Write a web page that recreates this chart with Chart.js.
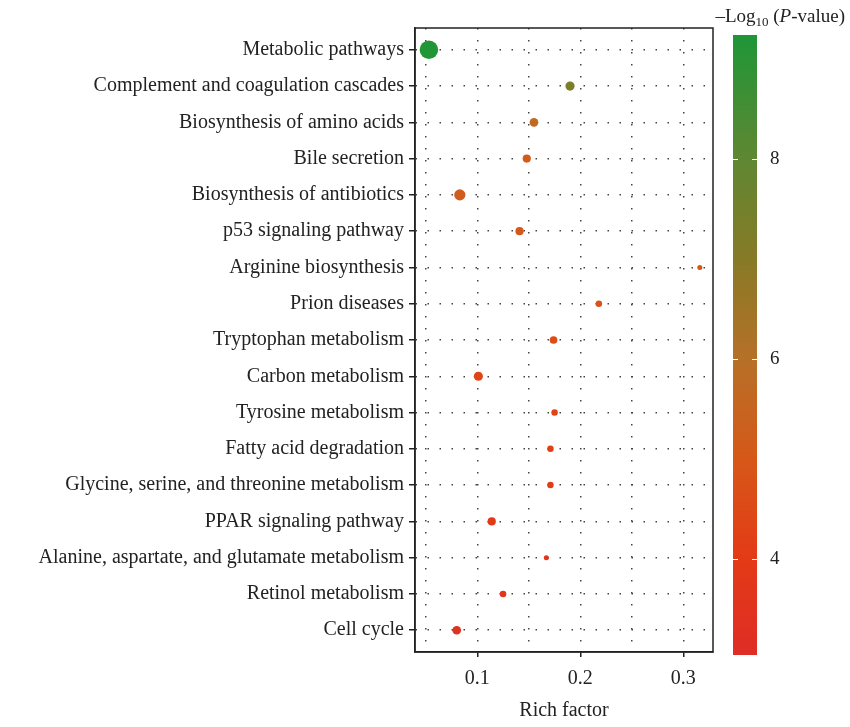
<!DOCTYPE html>
<html><head><meta charset="utf-8">
<script src="https://cdn.jsdelivr.net/npm/chart.js@4.4.0/dist/chart.umd.min.js"></script>
<style>html,body{margin:0;padding:0;background:#fff;}</style>
</head><body>
<canvas id="c" width="850" height="727"></canvas>
<script>
const categories = [
  "Metabolic pathways",
  "Complement and coagulation cascades",
  "Biosynthesis of amino acids",
  "Bile secretion",
  "Biosynthesis of antibiotics",
  "p53 signaling pathway",
  "Arginine biosynthesis",
  "Prion diseases",
  "Tryptophan metabolism",
  "Carbon metabolism",
  "Tyrosine metabolism",
  "Fatty acid degradation",
  "Glycine, serine, and threonine metabolism",
  "PPAR signaling pathway",
  "Alanine, aspartate, and glutamate metabolism",
  "Retinol metabolism",
  "Cell cycle"
];
const richFactor = [0.053, 0.190, 0.155, 0.148, 0.083, 0.141, 0.316, 0.218, 0.174, 0.101, 0.175, 0.171, 0.171, 0.114, 0.167, 0.125, 0.080];
const negLog10P  = [9.2, 7.3, 5.7, 5.1, 5.2, 5.0, 4.9, 4.8, 4.6, 4.4, 4.3, 4.2, 4.1, 3.9, 3.7, 3.6, 3.4];
const geneCount  = [41, 10, 9, 8, 15, 8, 3, 5, 7, 10, 5, 5, 5, 8, 3, 5, 9];
const xTicks = [0.05, 0.1, 0.15, 0.2, 0.25, 0.3];
const xLabelTicks = [0.1, 0.2, 0.3];
const colorTicks = [4, 6, 8];
const colorRange = [3.04, 9.24];

const FONT = "'Liberation Serif', 'Times New Roman', serif";
const stops = [
  [3.04, [222, 45, 38]],
  [4.0,  [228, 58, 22]],
  [5.0,  [214, 88, 24]],
  [6.0,  [182, 112, 40]],
  [7.0,  [135, 122, 38]],
  [8.0,  [95, 135, 50]],
  [9.24, [30, 150, 55]]
];
function colorFor(v) {
  if (v <= stops[0][0]) return 'rgb(' + stops[0][1].join(',') + ')';
  for (let i = 1; i < stops.length; i++) {
    if (v <= stops[i][0]) {
      const t = (v - stops[i-1][0]) / (stops[i][0] - stops[i-1][0]);
      const a = stops[i-1][1], b = stops[i][1];
      return 'rgb(' + a.map((c, k) => Math.round(c + (b[k] - c) * t)).join(',') + ')';
    }
  }
  return 'rgb(' + stops[stops.length-1][1].join(',') + ')';
}
function radiusFor(n) { return 1.45 * Math.sqrt(n); }

const frame = {
  id: 'frame',
  afterDraw(chart) {
    const {ctx, chartArea: a} = chart;
    ctx.save();
    ctx.setLineDash([]);
    ctx.strokeStyle = '#222';
    ctx.lineWidth = 1.5;
    ctx.strokeRect(a.left, a.top, a.right - a.left, a.bottom - a.top);
    ctx.restore();
  }
};

const colorbar = {
  id: 'colorbar',
  afterDraw(chart) {
    const ctx = chart.ctx;
    const x0 = 733, w = 24, top = 35, bottom = 655;
    const span = colorRange[1] - colorRange[0];
    const g = ctx.createLinearGradient(0, bottom, 0, top);
    stops.forEach(s => g.addColorStop((s[0] - colorRange[0]) / span, 'rgb(' + s[1].join(',') + ')'));
    ctx.save();
    ctx.setLineDash([]);
    ctx.fillStyle = g;
    ctx.fillRect(x0, top, w, bottom - top);
    const yFor = v => bottom - (v - colorRange[0]) / span * (bottom - top);
    ctx.strokeStyle = '#fff';
    ctx.lineWidth = 1;
    ctx.fillStyle = '#222';
    ctx.font = '19px ' + FONT;
    ctx.textBaseline = 'middle';
    ctx.textAlign = 'left';
    colorTicks.forEach(v => {
      const y = Math.round(yFor(v)) + 0.5;
      ctx.beginPath();
      ctx.moveTo(x0, y); ctx.lineTo(x0 + 5, y);
      ctx.moveTo(x0 + w - 5, y); ctx.lineTo(x0 + w, y);
      ctx.stroke();
      ctx.fillText(String(v), 770, y);
    });
    const parts = [
      {t: '\u2013Log', f: '19px ' + FONT, dy: 0},
      {t: '10', f: '13px ' + FONT, dy: 4},
      {t: ' (', f: '19px ' + FONT, dy: 0},
      {t: 'P', f: 'italic 19px ' + FONT, dy: 0},
      {t: '-value)', f: '19px ' + FONT, dy: 0}
    ];
    let total = 0;
    parts.forEach(p => { ctx.font = p.f; p.w = ctx.measureText(p.t).width; total += p.w; });
    let x = 845 - total;
    ctx.textBaseline = 'alphabetic';
    parts.forEach(p => { ctx.font = p.f; ctx.fillText(p.t, x, 22 + p.dy); x += p.w; });
    ctx.restore();
  }
};

new Chart(document.getElementById('c'), {
  type: 'scatter',
  data: {
    datasets: [{
      data: categories.map((c, i) => ({x: richFactor[i], y: i})),
      pointRadius: geneCount.map(radiusFor),
      pointHoverRadius: geneCount.map(radiusFor),
      backgroundColor: negLog10P.map(colorFor),
      borderWidth: 0
    }]
  },
  options: {
    responsive: false,
    animation: false,
    devicePixelRatio: 1,
    layout: {padding: {left: 0, top: 28, right: 137, bottom: 0}},
    plugins: {legend: {display: false}, tooltip: {enabled: false}},
    font: {family: FONT},
    scales: {
      x: {
        type: 'linear',
        min: 0.0395,
        max: 0.3288,
        afterBuildTicks: s => { s.ticks = xTicks.map(v => ({value: v})); },
        afterFit: s => { s.height = 75; },
        border: {display: true, color: '#222', width: 1.5, dash: [1.5, 10.5]},
        grid: {
          color: '#444',
          lineWidth: 1.5,
          tickLength: 5,
          tickBorderDash: [],
          tickWidth: 1.5,
          tickColor: ctx => xLabelTicks.some(v => Math.abs(v - ctx.tick.value) < 1e-9) ? '#222' : 'rgba(0,0,0,0)'
        },
        ticks: {
          autoSkip: false,
          maxRotation: 0,
          padding: 10,
          color: '#222',
          font: {family: FONT, size: 20},
          callback: v => xLabelTicks.some(t => Math.abs(t - v) < 1e-9) ? String(Math.round(v * 10) / 10) : ''
        },
        title: {display: true, text: 'Rich factor', color: '#222', font: {family: FONT, size: 20}, padding: {top: 4, bottom: 4}}
      },
      y: {
        type: 'linear',
        reverse: true,
        min: -0.6,
        max: 16.6,
        afterBuildTicks: s => { s.ticks = categories.map((c, i) => ({value: i})); },
        afterFit: s => { s.width = 415; },
        border: {display: true, color: '#222', width: 1.5, dash: [1.5, 10.5]},
        grid: {
          color: '#444',
          lineWidth: 1.5,
          tickLength: 6,
          tickBorderDash: [],
          tickWidth: 1.5,
          tickColor: '#222'
        },
        ticks: {
          autoSkip: false,
          padding: 5,
          color: '#222',
          font: {family: FONT, size: 20},
          callback: v => categories[v]
        }
      }
    }
  },
  plugins: [frame, colorbar]
});
</script>
</body></html>
